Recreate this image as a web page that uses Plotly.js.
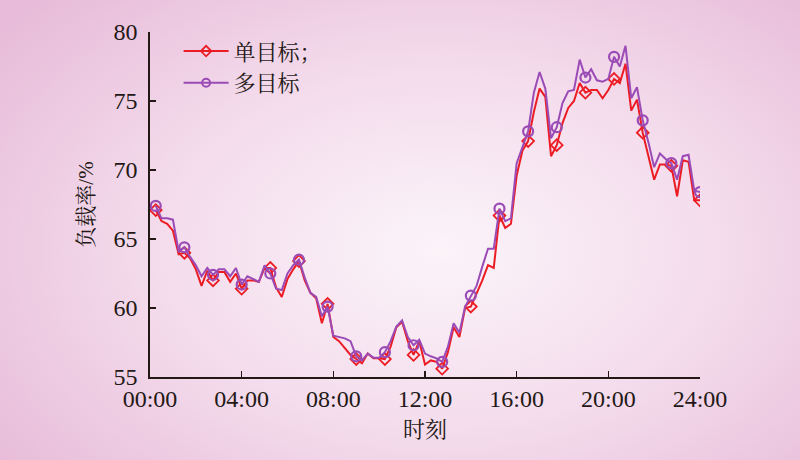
<!DOCTYPE html>
<html><head><meta charset="utf-8">
<script src="https://cdn.plot.ly/plotly-3.0.1.min.js"></script>
<style>
html,body{margin:0;padding:0;}
body{width:800px;height:460px;overflow:hidden;background:radial-gradient(ellipse 560px 360px at 440px 250px, #fbf4f9 0%, #f4dcec 50%, #e7bbd9 100%);}
#chart{width:800px;height:460px;}
</style></head><body><div id="chart"></div>
<script>
// time of day in hours (15-min steps, 00:15 ... 24:00)
const hours = Array.from({length: 96}, (_, i) => (i + 1) * 0.25);
const tickHours = [0, 4, 8, 12, 16, 20, 24];
const tickLabels = ['00:00', '04:00', '08:00', '12:00', '16:00', '20:00', '24:00'];
const seriesNames = ['单目标；', '多目标'];

// 单目标 load rate (%)
const singleObj = [
 67.1, 66.3, 66.1, 65.6, 63.9, 64.0, 63.6, 62.8, 61.6, 62.7,
 62.0, 62.6, 62.6, 61.9, 62.5, 61.4, 62.0, 62.0, 61.9, 62.9,
 62.9, 61.5, 60.8, 62.1, 62.8, 63.4, 62.0, 61.1, 60.7, 58.9,
 60.3, 57.9, 57.6, 57.1, 56.6, 56.3, 56.0, 56.7, 56.35, 56.35,
 56.3, 57.2, 58.6, 59.0, 57.6, 56.6, 57.6, 55.9, 56.2, 56.1,
 55.6, 56.8, 58.6, 57.9, 60.0, 60.1, 61.0, 62.0, 63.1, 62.9,
 66.7, 65.8, 66.1, 69.6, 71.4, 72.1, 74.2, 75.9, 75.3, 71.0,
 71.8, 73.4, 74.5, 75.0, 76.3, 75.6, 75.8, 75.8, 75.2, 75.8,
 76.6, 76.3, 77.7, 74.3, 75.1, 72.7, 71.0, 69.3, 70.4, 70.4,
 70.3, 68.1, 70.7, 70.6, 67.8, 67.8
];
// 多目标 load rate (%)
const multiObj = [
 67.4, 66.5, 66.5, 66.4, 64.1, 64.4, 63.7, 63.1, 62.3, 62.9,
 62.4, 62.8, 62.8, 62.3, 62.9, 61.7, 62.3, 62.1, 61.9, 63.1,
 62.5, 61.4, 61.3, 62.5, 63.1, 63.5, 62.2, 61.1, 60.8, 59.4,
 60.1, 58.0, 57.9, 57.8, 57.6, 56.5, 56.2, 56.7, 56.4, 56.4,
 56.8, 57.6, 58.65, 59.1, 57.9, 57.3, 57.7, 56.7, 56.5, 56.35,
 56.1, 57.2, 58.9, 58.2, 60.1, 60.9, 61.6, 63.0, 64.3, 64.3,
 67.2, 66.3, 66.5, 70.5, 71.7, 72.8, 75.6, 77.1, 75.9, 72.3,
 73.1, 74.85, 75.7, 75.8, 78.0, 76.7, 77.3, 76.5, 76.4, 76.6,
 78.2, 77.5, 79.0, 75.2, 76.0, 73.6, 72.0, 70.2, 71.2, 70.8,
 70.5, 69.3, 71.0, 71.1, 68.5, 68.4
];

const RED = '#ec1c24';
const PURPLE = '#9a4bb6';
const markEvery = 5;
const pick = arr => arr.filter((_, i) => i % markEvery === 0);

const redMarker = {symbol: 'diamond-open', size: 9, color: RED, line: {width: 1.8, color: RED}};
const purMarker = {symbol: 'circle-open', size: 10, color: PURPLE, line: {width: 2.2, color: PURPLE}};

const traces = [
  {x: hours, y: singleObj, mode: 'lines', line: {color: RED, width: 2}, showlegend: false, hoverinfo: 'skip'},
  {x: pick(hours), y: pick(singleObj), mode: 'markers', marker: redMarker, showlegend: false},
  {x: hours, y: multiObj, mode: 'lines', line: {color: PURPLE, width: 2}, showlegend: false, hoverinfo: 'skip'},
  {x: pick(hours), y: pick(multiObj), mode: 'markers', marker: purMarker, showlegend: false},
  {x: [null], y: [null], name: seriesNames[0], mode: 'lines+markers', line: {color: RED, width: 2},
   marker: {symbol: 'diamond-open', size: 8, color: RED, line: {width: 1.8, color: RED}}, legendgroup: 'a'},
  {x: [null], y: [null], name: seriesNames[1], mode: 'lines+markers', line: {color: PURPLE, width: 2},
   marker: {symbol: 'circle-open', size: 8, color: PURPLE, line: {width: 2, color: PURPLE}}, legendgroup: 'b'}
];

const FONT = '"Liberation Serif", "Times New Roman", "Noto Serif CJK SC", "Noto Sans CJK SC", serif';
const INK = '#231815';

const layout = {
  width: 800, height: 460,
  margin: {l: 150, r: 100, t: 32, b: 83, pad: 0},
  paper_bgcolor: 'rgba(0,0,0,0)',
  plot_bgcolor: 'rgba(0,0,0,0)',
  font: {family: FONT, size: 24, color: INK},
  xaxis: {
    range: [0, 24], tickvals: tickHours, ticktext: tickLabels,
    showgrid: false, zeroline: false, showline: true, linecolor: INK, linewidth: 1.6,
    ticks: 'inside', ticklen: 6, tickwidth: 1.4, tickcolor: INK,
    tickfont: {family: FONT, size: 24, color: INK},
    title: {text: '时刻', font: {family: FONT, size: 22, color: INK}, standoff: 10}
  },
  yaxis: {
    range: [55, 80], dtick: 5, tick0: 55,
    showgrid: false, zeroline: false, showline: true, linecolor: INK, linewidth: 1.6,
    ticks: 'inside', ticklen: 6, tickwidth: 1.4, tickcolor: INK,
    tickfont: {family: FONT, size: 24, color: INK},
    ticklabelstandoff: 6,
    title: {text: '负载率/%', font: {family: FONT, size: 21, color: INK}, standoff: 14}
  },
  legend: {
    x: 0.052, xanchor: 'left', y: 1.005, yanchor: 'top',
    bgcolor: 'rgba(0,0,0,0)', borderwidth: 0, itemwidth: 45,
    font: {family: FONT, size: 22, color: INK},
    traceorder: 'grouped', tracegroupgap: 0
  },
  showlegend: true
};

Plotly.newPlot('chart', traces, layout, {displayModeBar: false, staticPlot: true});
</script>
</body></html>
